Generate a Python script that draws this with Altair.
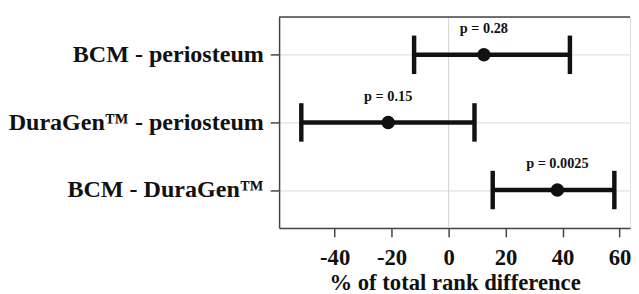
import altair as alt
import pandas as pd

# ---- data ----
comparisons = ["BCM - periosteum", "DuraGen™ - periosteum", "BCM - DuraGen™"]
estimates = [12.4, -21.2, 38.2]
lower = [-12.1, -51.7, 15.5]
upper = [42.6, 9.1, 58.2]
p_labels = ["p = 0.28", "p = 0.15", "p = 0.0025"]
x_ticks = [-40, -20, 0, 20, 40, 60]
zero_line = [0]

df = pd.DataFrame({
    "comparison": comparisons,
    "estimate": estimates,
    "lower": lower,
    "upper": upper,
    "p": p_labels,
})
zdf = pd.DataFrame({"z": zero_line})

FONT = "Liberation Serif"
INK = "#111111"
FRAME = "#444444"
GRID = "#d9d9d9"
W, H = 356, 214

xscale = alt.Scale(domain=[-59.5, 63.7], nice=False, zero=False)
yscale = alt.Scale(type="point", padding=0.56)

y_enc = alt.Y(
    "comparison:N",
    sort=comparisons,
    scale=yscale,
    title=None,
    axis=alt.Axis(
        grid=True, gridColor=GRID, gridWidth=1,
        domainColor=FRAME, domainWidth=1.5,
        tickColor=FRAME, tickWidth=1.5, tickSize=9,
        labelFont=FONT, labelFontSize=24.4, labelFontWeight="bold",
        labelColor=INK, labelPadding=7, labelLimit=400,
        minExtent=272, maxExtent=272,
    ),
)

x_axis = alt.Axis(
    values=x_ticks, grid=False,
    domainColor=FRAME, domainWidth=1.5,
    tickColor=FRAME, tickWidth=1.5, tickSize=9,
    labelFont=FONT, labelFontSize=23, labelFontWeight="bold",
    labelColor=INK, labelPadding=10, labelExpr="'' + datum.value",
    title="% of total rank difference",
    titleFont=FONT, titleFontSize=23, titleFontWeight="bold",
    titleColor=INK, titlePadding=2,
)

# top frame line of the panel
top_frame = alt.Chart(zdf).mark_rule(color=FRAME, strokeWidth=1.5).encode(
    x=alt.value(0), x2=alt.value(W), y=alt.value(0)
)

zero_rule = alt.Chart(zdf).mark_rule(color=GRID, strokeWidth=1.2).encode(
    x=alt.X("z:Q", scale=xscale, axis=x_axis)
)

bars = alt.Chart(df).mark_rule(color=INK, strokeWidth=4.5).encode(
    x=alt.X("lower:Q", scale=xscale, axis=x_axis),
    x2="upper:Q",
    y=y_enc,
)

cap_lo = alt.Chart(df).mark_tick(color=INK, thickness=4.5, size=39, opacity=1).encode(
    x=alt.X("lower:Q", scale=xscale, axis=x_axis),
    y=y_enc,
)
cap_hi = alt.Chart(df).mark_tick(color=INK, thickness=4.5, size=39, opacity=1).encode(
    x=alt.X("upper:Q", scale=xscale, axis=x_axis),
    y=y_enc,
)

points = alt.Chart(df).mark_circle(color=INK, size=185, opacity=1).encode(
    x=alt.X("estimate:Q", scale=xscale, axis=x_axis),
    y=y_enc,
)

labels = alt.Chart(df).mark_text(
    font=FONT, fontSize=14.5, fontWeight="bold", color=INK, dy=-26
).encode(
    x=alt.X("estimate:Q", scale=xscale, axis=x_axis),
    y=y_enc,
    text="p:N",
)

chart = (
    alt.layer(zero_rule, top_frame, bars, cap_lo, cap_hi, points, labels)
    .properties(width=W, height=H, padding={"left": 0, "top": 6, "right": 0, "bottom": 0})
    .configure_view(stroke=None)
    .configure_axis(labelFont=FONT, titleFont=FONT)
    .configure(background="white", font=FONT)
)

chart.save("out.html", embed_options={"renderer": "svg", "actions": False})
